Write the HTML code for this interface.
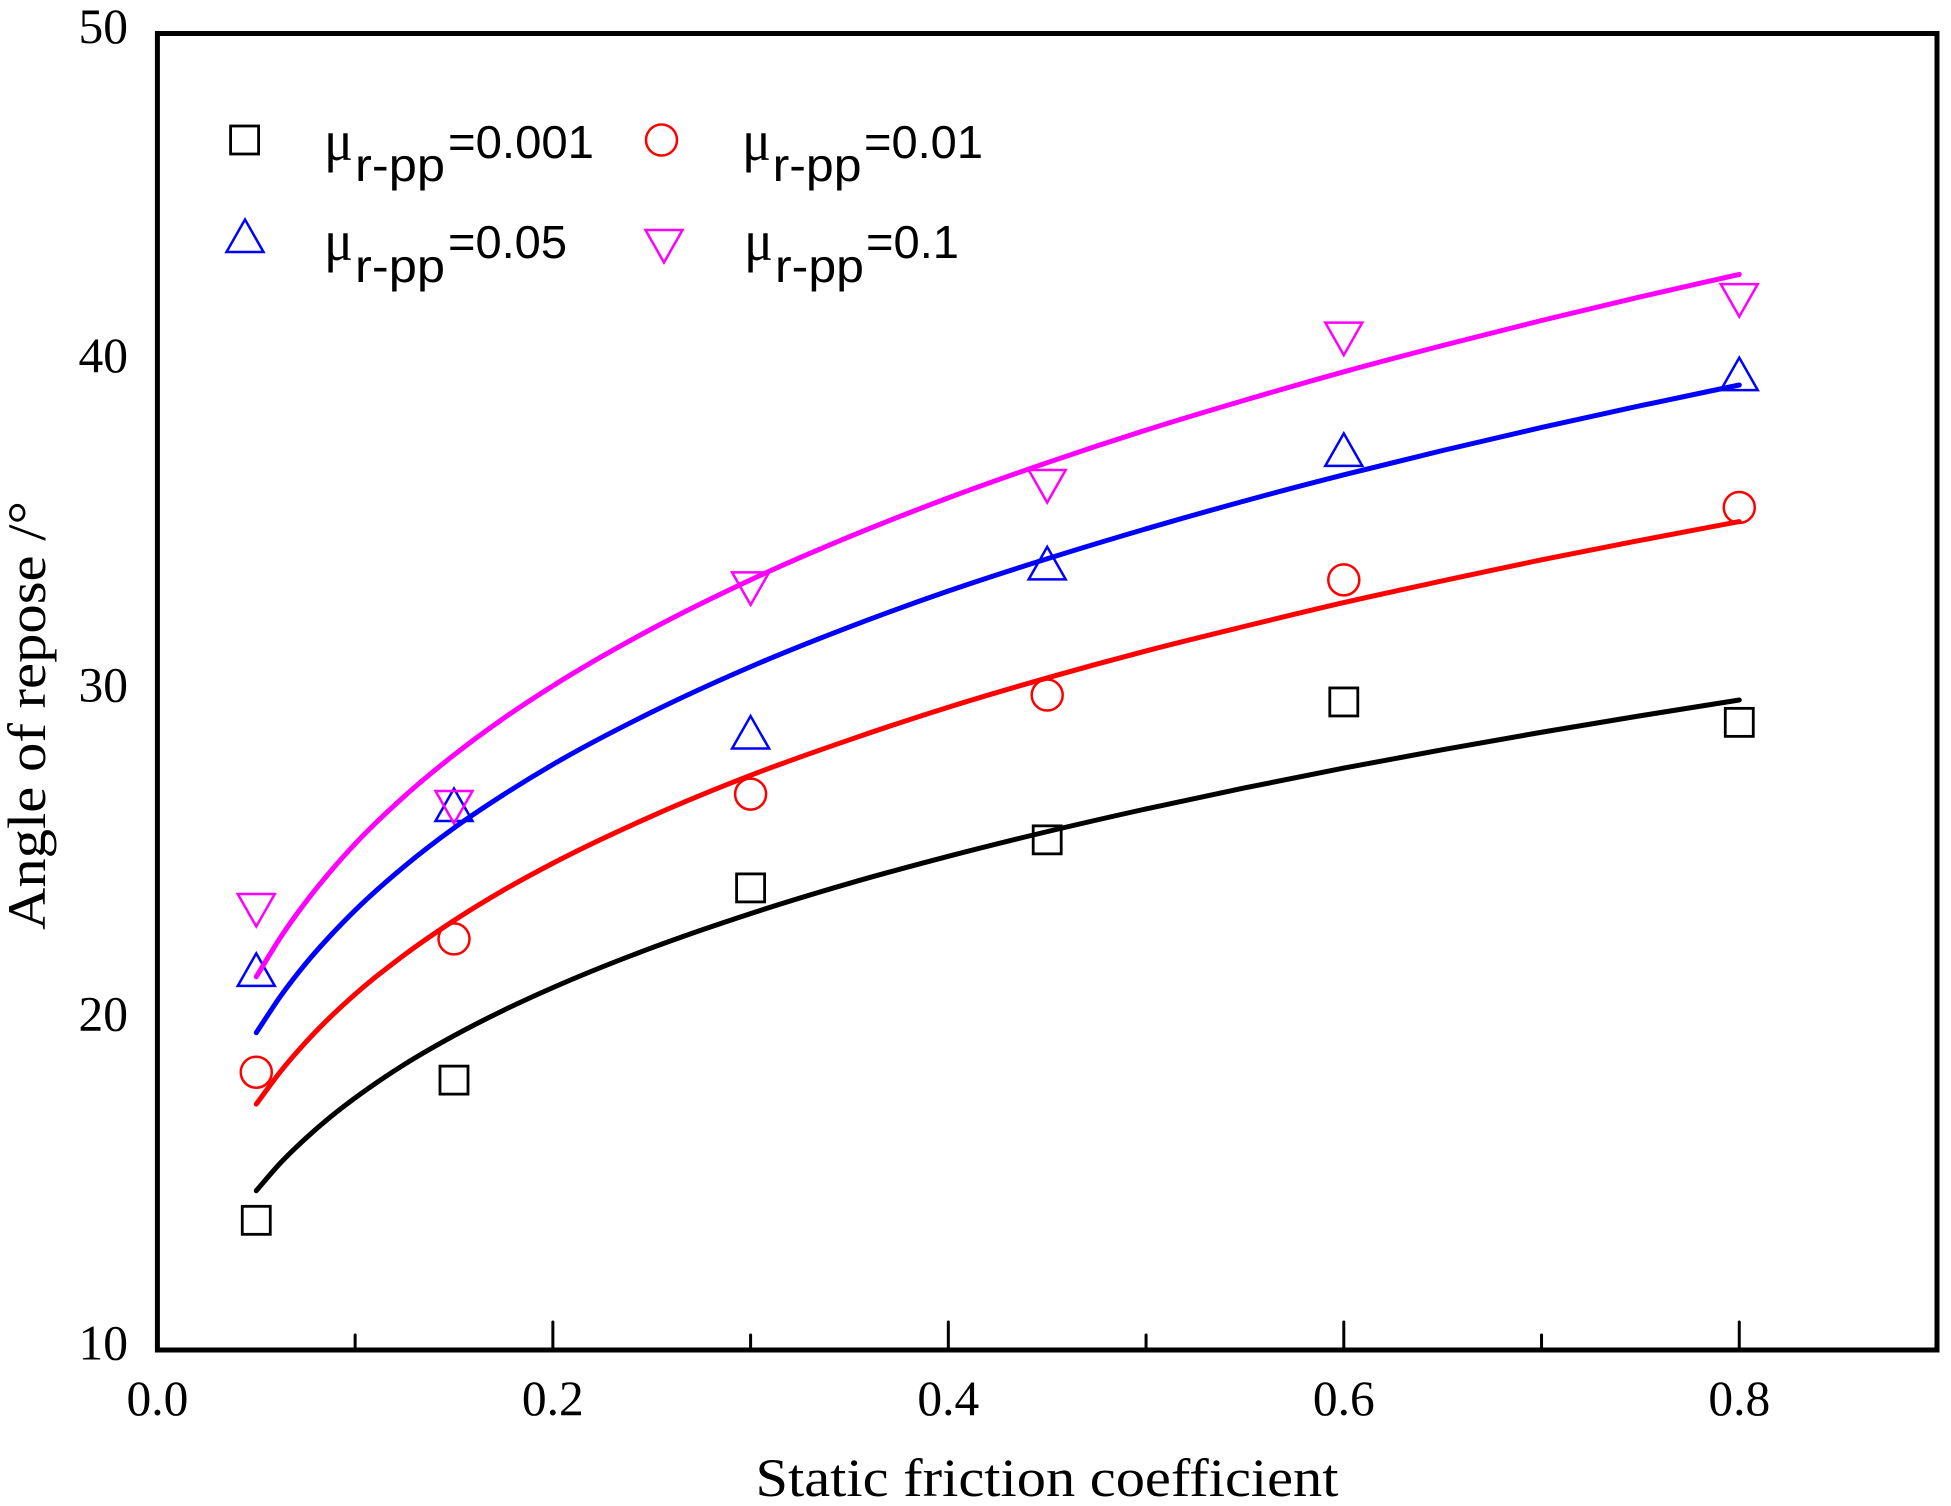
<!DOCTYPE html>
<html lang="en">
<head>
<meta charset="utf-8">
<title>Angle of repose vs static friction coefficient</title>
<style>
html,body{margin:0;padding:0;background:#fff;width:1951px;height:1506px;overflow:hidden}
svg{display:block}
.tick{font-family:"Liberation Serif",serif;font-size:49.5px;fill:#000}
.title{font-family:"Liberation Serif",serif;font-size:54px;fill:#000}
.leg{font-family:"Liberation Sans",sans-serif;font-size:46px;fill:#000}
.mu{font-family:"Liberation Serif",serif;font-size:58px;fill:#000}
</style>
</head>
<body>
<svg id="chart" xmlns="http://www.w3.org/2000/svg" width="1951" height="1506" viewBox="0 0 1951 1506">
  <rect x="0" y="0" width="1951" height="1506" fill="#fff"/>
  <g id="ticks"></g>
  <g id="labels"></g>
  <g id="marks"></g>
  <g id="lines"></g>
  <rect id="frame" fill="none" stroke="#000" stroke-width="5"/>
  <text class="title" x="755.5" y="1496" textLength="583" lengthAdjust="spacingAndGlyphs">Static friction coefficient</text>
  <text class="title" transform="translate(45,930) rotate(-90)" textLength="429" lengthAdjust="spacingAndGlyphs">Angle of repose /°</text>

  <g>
    <g id="legend-symbols"></g>
    <g>
      <text class="mu" x="324" y="160" textLength="29" lengthAdjust="spacingAndGlyphs">μ</text>
      <text class="leg" x="355" y="181" textLength="90" lengthAdjust="spacingAndGlyphs">r-pp</text>
      <text class="leg" x="448" y="158" textLength="146" lengthAdjust="spacingAndGlyphs">=0.001</text>
    </g>
    <g>
      <text class="mu" x="742" y="160" textLength="29" lengthAdjust="spacingAndGlyphs">μ</text>
      <text class="leg" x="772.6" y="181" textLength="89" lengthAdjust="spacingAndGlyphs">r-pp</text>
      <text class="leg" x="864" y="158" textLength="119" lengthAdjust="spacingAndGlyphs">=0.01</text>
    </g>
    <g>
      <text class="mu" x="324" y="260" textLength="29" lengthAdjust="spacingAndGlyphs">μ</text>
      <text class="leg" x="355" y="282" textLength="90" lengthAdjust="spacingAndGlyphs">r-pp</text>
      <text class="leg" x="448" y="258" textLength="119" lengthAdjust="spacingAndGlyphs">=0.05</text>
    </g>
    <g>
      <text class="mu" x="744" y="260" textLength="29" lengthAdjust="spacingAndGlyphs">μ</text>
      <text class="leg" x="775" y="282" textLength="89" lengthAdjust="spacingAndGlyphs">r-pp</text>
      <text class="leg" x="866" y="258" textLength="93" lengthAdjust="spacingAndGlyphs">=0.1</text>
    </g>
  </g>
</svg>
<script>
var xTickValues = [0.1, 0.2, 0.3, 0.4, 0.5, 0.6, 0.7, 0.8];
var xTickLabels = ["0.0", "0.2", "0.4", "0.6", "0.8"];
var yTickLabels = ["10", "20", "30", "40", "50"];

var markerX = [0.05, 0.15, 0.3, 0.45, 0.6, 0.8];
var markersBlack = [13.94, 18.2, 24.04, 25.5, 29.69, 29.07];
var markersRed = [18.44, 22.49, 26.89, 29.9, 33.4, 35.6];
var markersBlue = [21.55, 26.56, 28.76, 33.9, 37.35, 39.65];
var markersMagenta = [23.37, 26.5, 33.14, 36.25, 40.73, 41.9];

var lineX = [0.05, 0.0625, 0.075, 0.0875, 0.1, 0.125, 0.15, 0.175, 0.2, 0.25, 0.3, 0.35, 0.4, 0.45, 0.5, 0.55, 0.6, 0.65, 0.7, 0.75, 0.8];
var lineBlack = [14.84, 15.7, 16.43, 17.08, 17.66, 18.68, 19.55, 20.32, 21.01, 22.22, 23.26, 24.18, 25.0, 25.75, 26.44, 27.08, 27.68, 28.24, 28.77, 29.27, 29.75];
var lineRed = [17.47, 18.48, 19.35, 20.12, 20.81, 22.01, 23.05, 23.97, 24.79, 26.22, 27.46, 28.54, 29.53, 30.42, 31.24, 31.99, 32.71, 33.37, 34.01, 34.6, 35.17];
var lineBlue = [19.64, 20.77, 21.74, 22.59, 23.36, 24.7, 25.86, 26.87, 27.79, 29.38, 30.76, 31.97, 33.06, 34.04, 34.95, 35.8, 36.59, 37.33, 38.03, 38.69, 39.32];
var lineMagenta = [21.34, 22.56, 23.61, 24.54, 25.38, 26.83, 28.08, 29.19, 30.18, 31.91, 33.4, 34.71, 35.89, 36.96, 37.95, 38.86, 39.72, 40.52, 41.28, 42.0, 42.68];

var NS = "http://www.w3.org/2000/svg";
var plotLeft = 157.4, plotRight = 1937, plotTop = 33.5, plotBottom = 1350;
function xScale(v) { return plotLeft + (plotRight - plotLeft) * v / 0.9; }
function yScale(v) { return plotBottom - (plotBottom - plotTop) * (v - 10) / 40; }
function make(tag, parent, attrs) {
  var el = document.createElementNS(NS, tag);
  for (var k in attrs) el.setAttribute(k, attrs[k]);
  parent.appendChild(el);
  return el;
}

var frame = document.getElementById("frame");
frame.setAttribute("x", plotLeft);
frame.setAttribute("y", plotTop);
frame.setAttribute("width", plotRight - plotLeft);
frame.setAttribute("height", plotBottom - plotTop);

var tickGroup = document.getElementById("ticks");
xTickValues.forEach(function (v, i) {
  var len = i % 2 === 1 ? 28 : 15;
  var t = make("line", tickGroup, {x1: xScale(v), x2: xScale(v), y1: plotBottom, y2: plotBottom - len, stroke: "#000", "stroke-width": 3, "stroke-linecap": "round"});
  
  
});

var labelGroup = document.getElementById("labels");
xTickLabels.forEach(function (s) {
  var t = make("text", labelGroup, {x: xScale(parseFloat(s)), y: 1415, "text-anchor": "middle", "class": "tick"});
  t.textContent = s;
  
  
});
yTickLabels.forEach(function (s) {
  var t = make("text", labelGroup, {x: 128, y: yScale(parseFloat(s)) + 9.5, "text-anchor": "end", "class": "tick"});
  t.textContent = s;
  
  
});

function drawSymbol(parent, kind, color, cx, cy) {
  var el;
  var common = {fill: "none", stroke: color, "stroke-width": kind === "square" ? 2.8 : 2.5};
  if (kind === "square") {
    el = make("rect", parent, common);
    el.setAttribute("x", cx - 14);
    el.setAttribute("y", cy - 14);
    el.setAttribute("width", 28);
    el.setAttribute("height", 28);
  } else if (kind === "circle") {
    el = make("circle", parent, common);
    el.setAttribute("cx", cx);
    el.setAttribute("cy", cy);
    el.setAttribute("r", 15.5);
  } else if (kind === "up") {
    el = make("polygon", parent, common);
    el.setAttribute("points", (cx) + "," + (cy - 16.5) + " " + (cx + 18.5) + "," + (cy + 16) + " " + (cx - 18.5) + "," + (cy + 16));
  } else {
    el = make("polygon", parent, common);
    el.setAttribute("points", (cx - 18.5) + "," + (cy - 16) + " " + (cx + 18.5) + "," + (cy - 16) + " " + (cx) + "," + (cy + 16.5));
  }
  return el;
}

var markGroup = document.getElementById("marks");
[[markersBlack, "square", "#000"], [markersRed, "circle", "#f00"], [markersBlue, "up", "#00f"], [markersMagenta, "down", "#f0f"]].forEach(function (s) {
  s[0].forEach(function (v, i) {
    var m = drawSymbol(markGroup, s[1], s[2], xScale(markerX[i]), yScale(v));
    
    
  });
});

function smoothPath(xs, ys) {
  var p = xs.map(function (x, i) { return [xScale(x), yScale(ys[i])]; });
  var n = p.length;
  var m = p.map(function (pt, i) {
    if (i === 0) return (p[1][1] - p[0][1]) / (p[1][0] - p[0][0]);
    if (i === n - 1) return (p[n - 1][1] - p[n - 2][1]) / (p[n - 1][0] - p[n - 2][0]);
    var h1 = pt[0] - p[i - 1][0], h2 = p[i + 1][0] - pt[0];
    var s1 = (pt[1] - p[i - 1][1]) / h1, s2 = (p[i + 1][1] - pt[1]) / h2;
    return (h2 * s1 + h1 * s2) / (h1 + h2);
  });
  var d = "M" + p[0][0] + " " + p[0][1];
  for (var i = 0; i < n - 1; i++) {
    var h = (p[i + 1][0] - p[i][0]) / 3;
    d += " C" + (p[i][0] + h) + " " + (p[i][1] + m[i] * h) + " " + (p[i + 1][0] - h) + " " + (p[i + 1][1] - m[i + 1] * h) + " " + p[i + 1][0] + " " + p[i + 1][1];
  }
  return d;
}
var lineGroup = document.getElementById("lines");
[[lineBlack, "#000"], [lineRed, "#f00"], [lineBlue, "#00f"], [lineMagenta, "#f0f"]].forEach(function (s) {
  var l = make("path", lineGroup, {d: smoothPath(lineX, s[0]), fill: "none", stroke: s[1], "stroke-width": 5, "stroke-linecap": "round", "stroke-linejoin": "round"});
  
  
});

var legendGroup = document.getElementById("legend-symbols");
var s1 = drawSymbol(legendGroup, "square", "#000", 244.6, 140);


var s2 = drawSymbol(legendGroup, "circle", "#f00", 661.5, 140);


var s3 = drawSymbol(legendGroup, "up", "#00f", 245, 236);


var s4 = drawSymbol(legendGroup, "down", "#f0f", 664, 246);


</script>
</body>
</html>
